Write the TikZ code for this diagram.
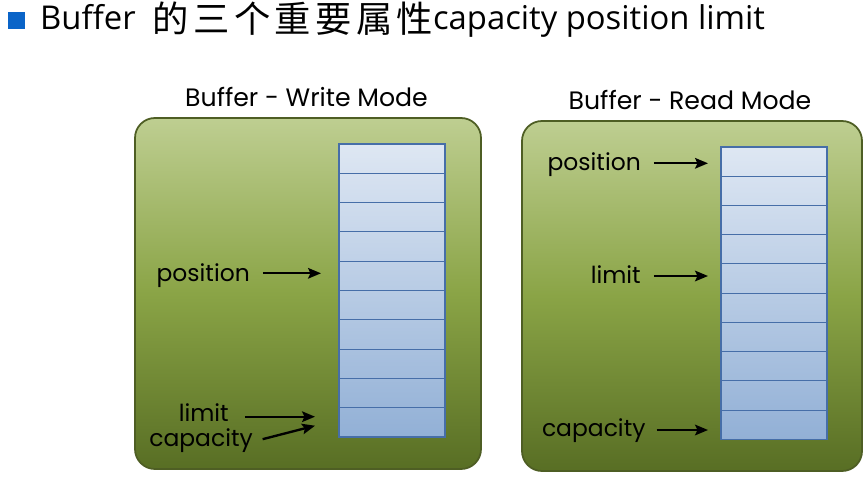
\documentclass[tikz,border=0pt]{standalone}
\usepackage{fontspec}
\setmainfont{Poppins}
\newfontfamily\cjkfont[LetterSpace=12]{Noto Sans CJK SC}
\newfontfamily\headlatin{Open Sans}
\usetikzlibrary{positioning,calc,arrows.meta}
\tikzset{>={Stealth[length=11pt,width=9pt,inset=2pt]}}

\definecolor{boxtop}{RGB}{190,206,145}
\definecolor{boxmid}{RGB}{138,164,70}
\definecolor{boxbot}{RGB}{88,110,36}
\definecolor{boxline}{RGB}{78,94,36}
\definecolor{celltop}{RGB}{222,231,243}
\definecolor{cellbot}{RGB}{146,176,214}
\definecolor{cellline}{RGB}{70,110,168}
\definecolor{bullet}{RGB}{10,100,200}

\tikzset{
  modebox/.style={draw=boxline,line width=1.5pt,rounded corners=17pt,
    top color=boxtop,bottom color=boxbot,middle color=boxmid},
  bufcol/.style={draw=cellline,line width=0.9pt,top color=celltop,bottom color=cellbot},
  modetitle/.style={font=\fontsize{21.5}{25}\selectfont,inner sep=0pt,anchor=base},
  lbl/.style={font=\fontsize{20}{24}\selectfont,inner sep=0pt,anchor=base east},
  ptr/.style={->,line width=2pt}
}

\begin{document}
\begin{tikzpicture}[x=0.03cm,y=-0.03cm]
\useasboundingbox[fill=white] (0,0) rectangle (868,479);
% heading
\fill[bullet] (8,12) rectangle (25,29);
\node[anchor=base west,inner sep=0pt,font=\fontsize{28}{32}\selectfont] (head) at (40,30)
  {\headlatin Buffer\ \ \smash{\raisebox{-2.5pt}{\cjkfont\fontsize{31}{35}\selectfont 的三个重要属性}}capacity position limit};

% write mode
\path[modebox] (135,118) rectangle (481,469);
\node[modetitle] (wtitle) at (306.5,106.7) {Buffer - Write Mode};
\draw[bufcol] (339,144) rectangle (445,437);
\foreach \k in {1,...,9}
  \draw[cellline,line width=0.9pt] (339,144+29.3*\k) -- (445,144+29.3*\k);
\coordinate (wposT) at (321,273.3);
\coordinate (wlimT) at (315,416.7);
\coordinate (wcapT) at (315,425.7);
\node[lbl] (wpos) at (250,281.5) {position};
\node[lbl] (wlim) at (229,421.7) {limit};
\node[lbl] (wcap) at (253,446.7) {capacity};
\draw[ptr,shorten <=11pt] (wpos.base east |- wposT) -- (wposT);
\draw[ptr,shorten <=13.5pt] (wlim.base east |- wlimT) -- (wlimT);
\draw[ptr,shorten <=8.5pt] ([yshift=4.3pt]wcap.base east) -- (wcapT);

% read mode
\path[modebox] (522,121) rectangle (862,471);
\node[modetitle] (rtitle) at (690,109.3) {Buffer - Read Mode};
\draw[bufcol] (721,147) rectangle (827,439.3);
\foreach \k in {1,...,9}
  \draw[cellline,line width=0.9pt] (721,147+29.23*\k) -- (827,147+29.23*\k);
\coordinate (rposT) at (708,163.3);
\coordinate (rlimT) at (708,276);
\coordinate (rcapT) at (708,430);
\node[lbl] (rpos) at (641,170.7) {position};
\node[lbl] (rlim) at (641,283) {limit};
\node[lbl] (rcap) at (645.7,436.7) {capacity};
\draw[ptr,shorten <=11pt] (rpos.base east |- rposT) -- (rposT);
\draw[ptr,shorten <=11pt] (rlim.base east |- rlimT) -- (rlimT);
\draw[ptr,shorten <=9.4pt] (rcap.base east |- rcapT) -- (rcapT);
\end{tikzpicture}
\end{document}
